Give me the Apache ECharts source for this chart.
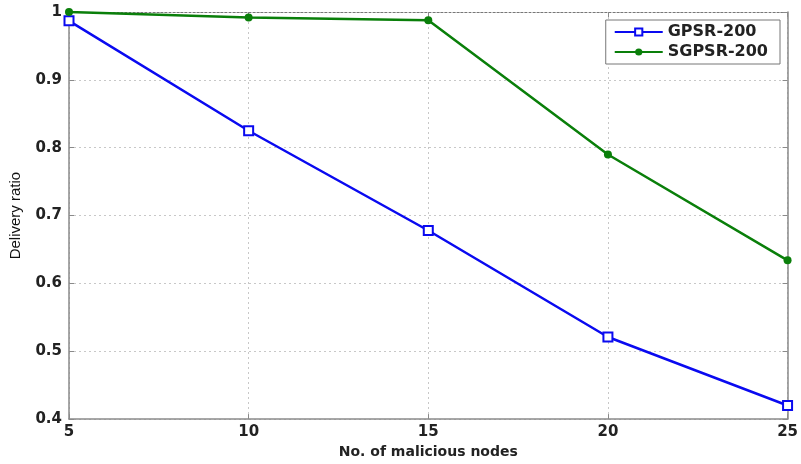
<!DOCTYPE html>
<html>
<head>
<meta charset="utf-8">
<script src="https://cdn.jsdelivr.net/npm/echarts@6/dist/echarts.min.js"></script>
<style>
  html, body { margin: 0; padding: 0; background: #fff; }
  #chart { width: 801px; height: 464px; }
</style>
</head>
<body>
<div id="chart"></div>
<script>
// Malicious node counts on the x axis
const maliciousNodes = [5, 10, 15, 20, 25];
// Delivery ratio per routing protocol
const gpsr200 = [0.987, 0.825, 0.678, 0.521, 0.420];
const sgpsr200 = [1.0, 0.992, 0.988, 0.790, 0.634];
const seriesNames = ['GPSR-200', 'SGPSR-200'];
const xTitle = 'No. of malicious nodes';
const yTitle = 'Delivery ratio';

const boldFont = 'DejaVu Sans, Liberation Sans, sans-serif';
const narrowFont = 'Liberation Sans Narrow, Liberation Sans, Arial, sans-serif';
const axisGray = '#8a8a8a';
const gridStyle = { color: '#c8c8c8', type: [2, 3], width: 1 };

const chart = echarts.init(document.getElementById('chart'), null, { renderer: 'canvas' });

const pairs = (ys) => maliciousNodes.map((x, i) => [x, ys[i]]);

const tickStyle = { show: true, inside: true, length: 5, lineStyle: { color: axisGray } };

chart.setOption({
  animation: false,
  grid: { left: 69, right: 8, top: 12, bottom: 41, containLabel: false },
  legend: {
    right: 21, top: 20,
    orient: 'vertical',
    align: 'left',
    backgroundColor: '#fff',
    borderColor: '#777',
    borderWidth: 1,
    padding: [4, 12, 4, 8],
    itemGap: 4,
    itemWidth: 48,
    itemHeight: 9,
    textStyle: { fontFamily: boldFont, fontSize: 16, fontWeight: 'bold', color: '#222' },
    data: seriesNames
  },
  xAxis: [
    {
      type: 'value',
      position: 'bottom',
      min: 5, max: 25, interval: 5,
      name: xTitle,
      nameLocation: 'middle',
      nameGap: 18,
      nameTextStyle: { fontFamily: boldFont, fontSize: 14, fontWeight: 'bold', color: '#222' },
      axisLine: { lineStyle: { color: axisGray, width: 1.5 } },
      axisTick: tickStyle,
      axisLabel: {
        margin: 6,
        fontFamily: boldFont, fontSize: 15, fontWeight: 'bold', color: '#222'
      },
      splitLine: { show: true, lineStyle: gridStyle }
    },
    {
      type: 'value',
      position: 'top',
      min: 5, max: 25, interval: 5,
      axisLine: { show: true, lineStyle: { color: '#777', type: [2, 2], width: 1 } },
      axisTick: tickStyle,
      axisLabel: { show: false },
      splitLine: { show: false }
    }
  ],
  yAxis: [
    {
      type: 'value',
      position: 'left',
      min: 0.4, max: 1, interval: 0.1,
      name: yTitle,
      nameLocation: 'middle',
      nameGap: 46,
      nameTextStyle: { fontFamily: narrowFont, fontSize: 15, color: '#111' },
      axisLine: { show: true, lineStyle: { color: axisGray, width: 1.5 } },
      axisTick: tickStyle,
      axisLabel: {
        margin: 7,
        fontFamily: boldFont, fontSize: 15, fontWeight: 'bold', color: '#222',
        formatter: (v) => (Math.abs(v - 1) < 1e-9 ? '1' : v.toFixed(1))
      },
      splitLine: { show: true, lineStyle: gridStyle }
    },
    {
      type: 'value',
      position: 'right',
      min: 0.4, max: 1, interval: 0.1,
      axisLine: { show: true, lineStyle: { color: axisGray, width: 1.5 } },
      axisTick: tickStyle,
      axisLabel: { show: false },
      splitLine: { show: false }
    }
  ],
  series: [
    {
      name: seriesNames[0],
      type: 'line',
      data: pairs(gpsr200),
      symbol: 'emptyRect',
      symbolSize: 9,
      lineStyle: { color: '#0a0af0', width: 2.5 },
      itemStyle: { color: '#0a0af0', borderWidth: 2.5 }
    },
    {
      name: seriesNames[1],
      type: 'line',
      data: pairs(sgpsr200),
      symbol: 'circle',
      symbolSize: 8,
      lineStyle: { color: '#0a7f0a', width: 2.5 },
      itemStyle: { color: '#0a7f0a' }
    }
  ]
});
</script>
</body>
</html>
